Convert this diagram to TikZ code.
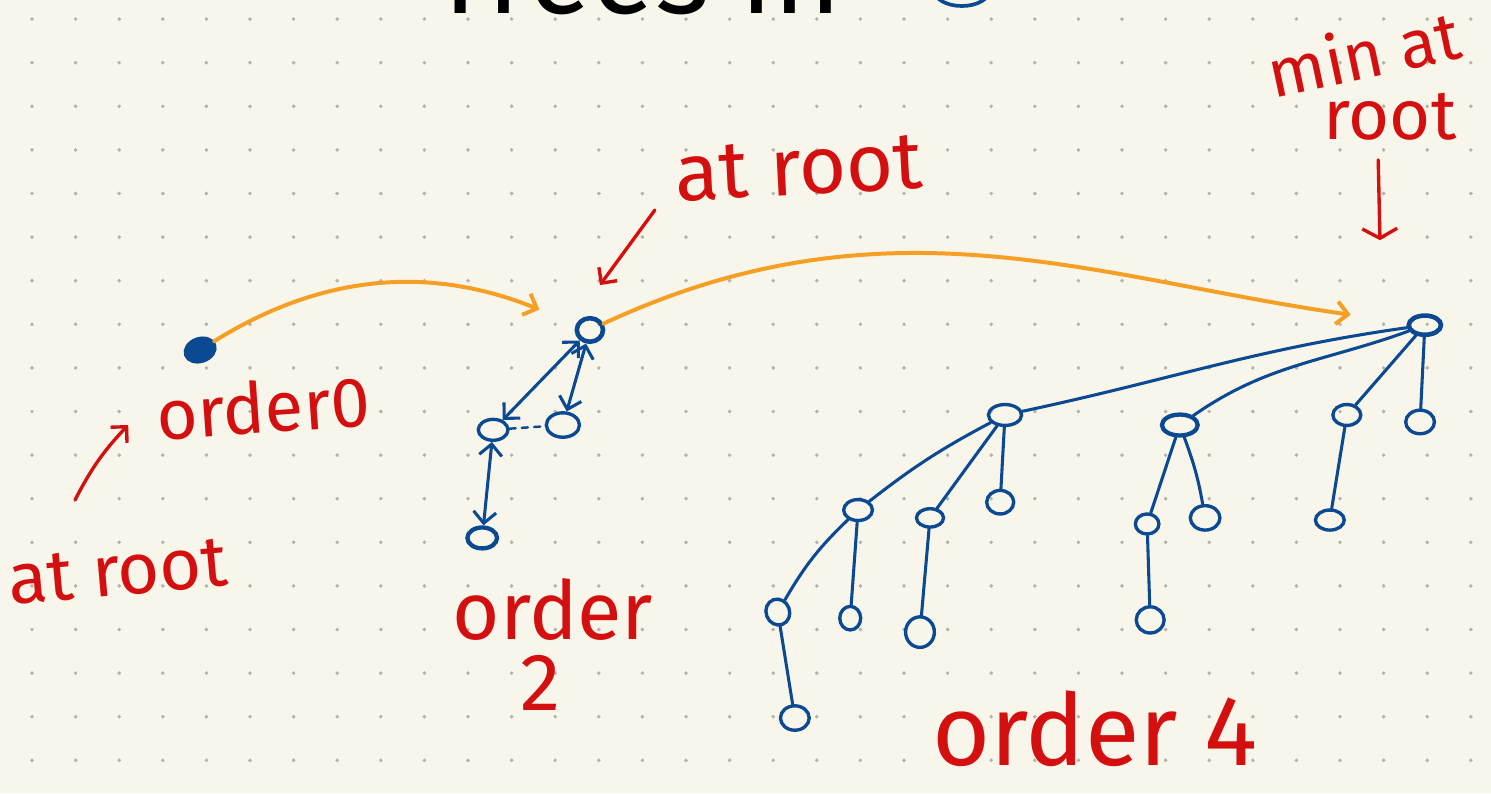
\documentclass[tikz,border=0pt]{standalone}
\usepackage{fontspec}
\setmainfont{Fira Sans}
\usepackage{tikz}
\usetikzlibrary{arrows.meta,positioning,shapes.geometric}

\definecolor{paper}{HTML}{F8F6EA}
\definecolor{griddot}{HTML}{B4B2AA}
\definecolor{inkblue}{HTML}{0B4A93}
\definecolor{inkred}{HTML}{D40F0F}
\definecolor{inkorange}{HTML}{F5A025}

\begin{document}
\begin{tikzpicture}[
    >={Straight Barb[length=2.6mm,width=5.2mm]},
    line cap=round,
    key/.style={ellipse, draw=inkblue, line width=2.2pt, minimum width=6.8mm, minimum height=4.8mm, inner sep=0pt},
    edge/.style={draw=inkblue, line width=2pt},
    link/.style={draw=inkorange, ->, line width=2.6pt},
    hint/.style={draw=inkred, ->, line width=2.2pt},
    note/.style={text=inkred, inner sep=0pt, anchor=base}
]
    \useasboundingbox (0,0) rectangle (34.197,18.188);
    \clip (0,0) rectangle (34.197,18.188);
    \fill[paper] (0,0) rectangle (34.197,18.188);
    \foreach \i in {0,...,33}
        \foreach \j in {0,...,17}
            \fill[griddot] (0.734+\i,0.75+\j) circle (0.045);

    \node[anchor=base west, inner sep=0pt, font=\fontsize{76pt}{76pt}\selectfont] (title) at (9.86,17.88) {Trees in};
    \draw[inkblue, line width=2.4pt] (22.06,18.42) ellipse (0.64 and 0.37);

    % order 0
    \node[key, fill=inkblue, minimum width=7mm, minimum height=5.2mm, rotate=20] (t0) at (4.59,10.16) {};

    % order 2
    \node[key, line width=3pt, minimum width=6mm, minimum height=5.4mm] (t2) at (13.53,10.62) {};
    \node[key] (t2a) at (11.31,8.33) {};
    \node[key, minimum width=7.6mm, minimum height=5.6mm] (t2b) at (12.91,8.44) {};
    \node[key, line width=2.8pt] (t2aa) at (11.06,5.85) {};
    \draw[edge, <->] (t2) -- (t2a);
    \draw[edge, <->] (t2) -- (t2b);
    \draw[edge, <->] (t2a) -- (t2aa);
    \draw[edge, line width=1.6pt, dash pattern=on 4pt off 4pt] (t2a) -- (t2b);

    % order 4
    \node[key, line width=3pt, minimum width=7.4mm, minimum height=4.4mm] (t4) at (32.68,10.73) {};
    \node[key, minimum width=7.6mm] (a) at (23.05,8.67) {};
    \node[key, line width=2.8pt, minimum width=8.2mm] (b) at (27.06,8.44) {};
    \node[key, minimum width=6.4mm] (c) at (30.89,8.67) {};
    \node[key, minimum width=6.6mm, minimum height=5.4mm] (d) at (32.57,8.51) {};
    \node[key, minimum width=6.6mm] (aa) at (19.68,6.49) {};
    \node[key, minimum width=6.2mm, minimum height=4.2mm] (ab) at (21.33,6.31) {};
    \node[key, minimum width=6.2mm, minimum height=5.4mm] (ac) at (22.94,6.67) {};
    \node[key, minimum width=5.4mm, minimum height=6mm, rotate=20] (aaa) at (17.84,4.15) {};
    \node[key, minimum width=4.8mm, minimum height=5.4mm] (aab) at (19.50,4.01) {};
    \node[key, minimum width=6.6mm, minimum height=5.6mm] (aaaa) at (18.23,1.72) {};
    \node[key, minimum width=6.6mm, minimum height=7mm] (aba) at (21.10,3.69) {};
    \node[key, minimum width=5.4mm, minimum height=4.6mm] (ba) at (26.31,6.17) {};
    \node[key, minimum width=6.8mm, minimum height=5.6mm] (bb) at (27.64,6.31) {};
    \node[key, minimum width=6.4mm, minimum height=6mm] (baa) at (26.38,3.97) {};
    \node[key, minimum width=6.6mm, minimum height=4.6mm] (ca) at (30.50,6.26) {};

    \draw[edge] (a) to[out=12,in=188] (t4);
    \draw[edge] (b) to[out=35,in=200] (t4);
    \draw[edge] (c) -- (t4);
    \draw[edge] (d) -- (t4);
    \draw[edge] (aa) to[bend left=5] (a);
    \draw[edge] (ab) -- (a);
    \draw[edge] (ac) -- (a);
    \draw[edge] (aaa) to[bend left=8] (aa);
    \draw[edge] (aab) -- (aa);
    \draw[edge] (aaaa) -- (aaa);
    \draw[edge] (aba) -- (ab);
    \draw[edge] (ba) -- (b);
    \draw[edge] (bb) to[out=100,in=-70] (b);
    \draw[edge] (baa) -- (ba);
    \draw[edge] (ca) -- (c);

    % root list
    \draw[link, shorten >=0.9cm] (t0) to[out=30,in=158] (t2);
    \draw[link, shorten >=1.3cm] (t2) to[out=25,in=172] (t4);

    % notes
    \node[note, rotate=4, font=\fontsize{46pt}{46pt}\selectfont] (l0) at (6.08,8.26) {order0};
    \node[note, rotate=5, font=\fontsize{47pt}{47pt}\selectfont] (r0) at (2.75,4.54) {at root};
    \coordinate (r0tail) at (1.72,6.72);
    \coordinate (r0head) at (2.94,8.44);
    \draw[hint] (r0tail) to[bend left=8] (r0head);

    \node[note, rotate=3, font=\fontsize{53pt}{53pt}\selectfont] (r2) at (18.35,13.72) {at root};
    \coordinate (r2tail) at (15.02,13.37);
    \coordinate (r2head) at (13.76,11.65);
    \draw[hint] (r2tail) -- (r2head);
    \node[note, font=\fontsize{53pt}{53pt}\selectfont] (l2) at (12.68,3.51) {order};
    \node[note, font=\fontsize{53pt}{53pt}\selectfont] (l2n) at (12.39,1.90) {2};

    \node[note, rotate=12, font=\fontsize{44pt}{44pt}\selectfont] (m4) at (31.40,16.40) {min at};
    \node[note, font=\fontsize{46pt}{46pt}\selectfont] (r4) at (31.88,14.98) {root};
    \coordinate (r4tail) at (31.61,14.52);
    \coordinate (r4head) at (31.65,12.68);
    \draw[hint, -{Straight Barb[length=2.2mm,width=8mm]}] (r4tail) -- (r4head);
    \node[note, font=\fontsize{65pt}{65pt}\selectfont] (l4) at (25.11,0.62) {order 4};
\end{tikzpicture}
\end{document}
